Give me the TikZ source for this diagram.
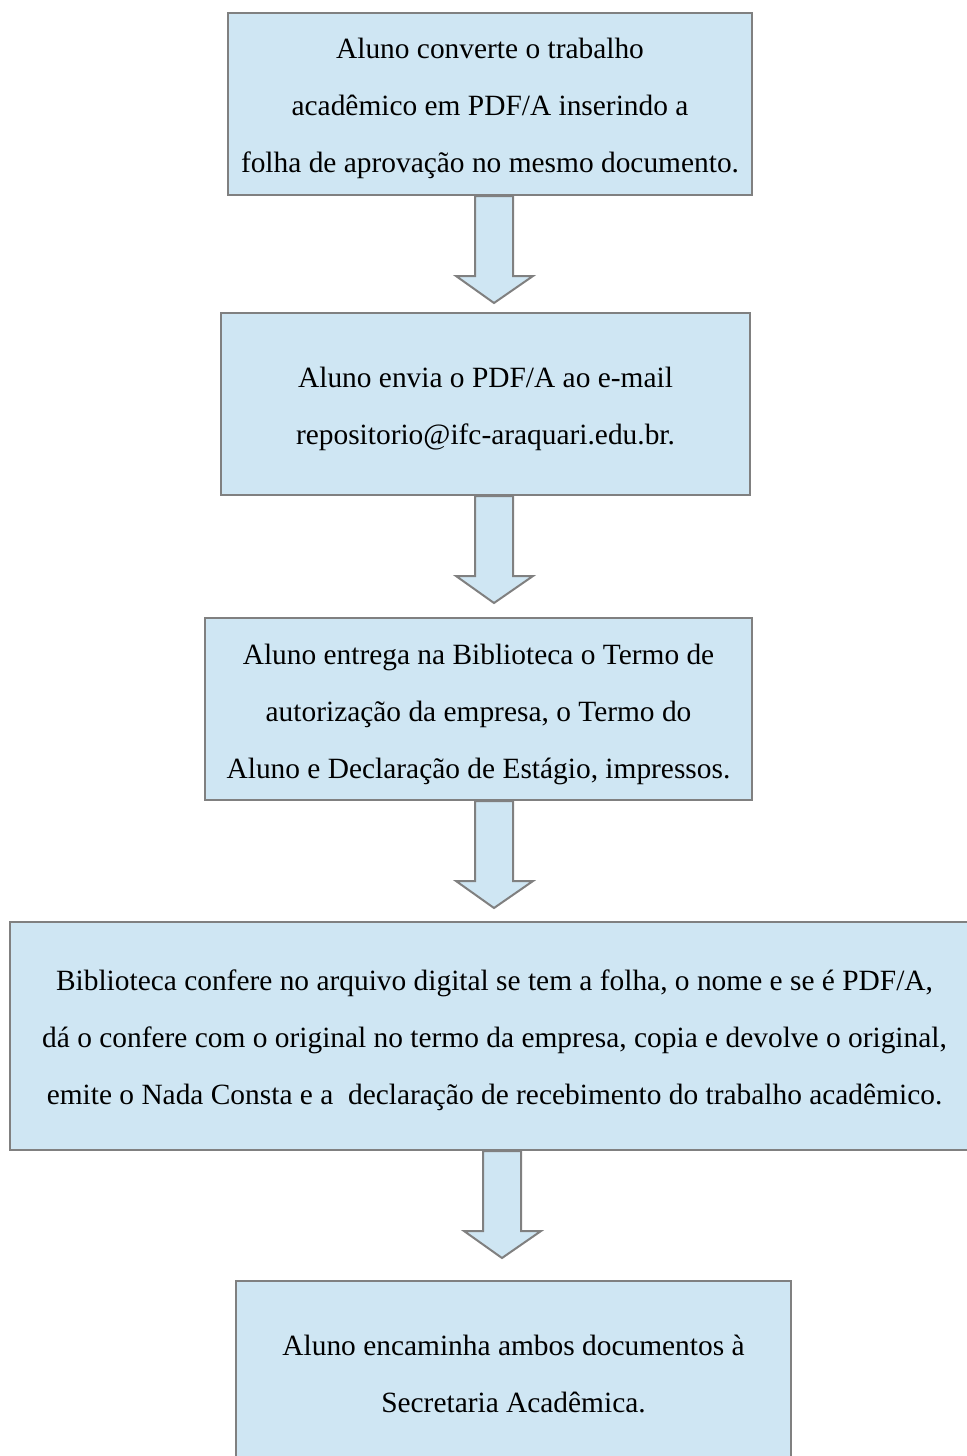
\documentclass[tikz,border=0pt]{standalone}
\usepackage{fontspec}
\setmainfont{Liberation Serif}
\usepackage{xcolor}
\definecolor{boxblue}{RGB}{207,230,243}
\definecolor{boxline}{RGB}{128,128,128}
\begin{document}
\begin{tikzpicture}[x=0.5pt,y=-0.5pt,
    stepbox/.style={draw=boxline,line width=1pt,fill=boxblue,inner sep=0pt},
    steptext/.style={align=center,inner sep=0pt,font=\fontsize{14.7}{28.5}\selectfont},
    blockarr/.style={draw=boxline,line width=1pt,fill=boxblue,line join=miter}]
    \useasboundingbox (0,0) rectangle (967,1456);
    \clip (0,0) rectangle (967,1456);

    \node[stepbox,minimum width=262pt,minimum height=91pt] (b1) at (490,104) {};
    \node[stepbox,minimum width=264.5pt,minimum height=91pt] (b2) at (485.5,404) {};
    \node[stepbox,minimum width=273.5pt,minimum height=91pt] (b3) at (478.5,709) {};
    \node[stepbox,minimum width=482.5pt,minimum height=114pt] (b4) at (492.5,1036) {};
    \node[stepbox,minimum width=277.5pt,minimum height=92.5pt] (b5) at (513.5,1373.5) {};

    \path (b1.center) ++(0,4) node[steptext] (t1)
    {Aluno converte o trabalho\\acadêmico em PDF/A inserindo a\\folha de aprovação no mesmo documento.};
    \path (b2.center) ++(0,5) node[steptext] (t2)
    {Aluno envia o PDF/A ao e-mail\\repositorio@ifc-araquari.edu.br.};
    \path (b3.center) ++(0,5) node[steptext] (t3)
    {Aluno entrega na Biblioteca o Termo de\\autorização da empresa, o Termo do\\Aluno e Declaração de Estágio, impressos.};
    \path (b4.center) ++(2,4) node[steptext] (t4)
    {Biblioteca confere no arquivo digital se tem a folha, o nome e se é PDF/A,\\dá o confere com o original no termo da empresa, copia e devolve o original,\\emite o Nada Consta e a~ declaração de recebimento do trabalho acadêmico.};
    \path (b5.center) node[steptext] (t5)
    {Aluno encaminha ambos documentos à\\Secretaria Acadêmica.};

    % block arrows between the steps
    \coordinate (a1) at (494,0);
    \coordinate (a4) at (502,0);
    \foreach \from/\ax in {b1/a1,b2/a1,b3/a1,b4/a4}
        \draw[blockarr] (\from.south -| \ax) ++(-19,0) -- ++(0,80) -- ++(-19,0)
        -- ++(38,27) -- ++(39,-27) -- ++(-20,0) -- ++(0,-80) -- cycle;

\end{tikzpicture}
\end{document}
